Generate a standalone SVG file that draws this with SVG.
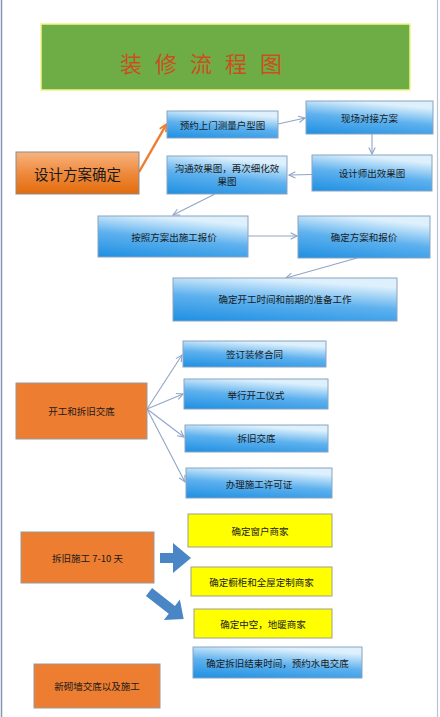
<svg xmlns="http://www.w3.org/2000/svg" width="440" height="717" viewBox="0 0 440 717">
<defs>
<linearGradient id="gBlue" x1="0" y1="1" x2="0.35" y2="0">
<stop offset="0" stop-color="#1E8FE2"/>
<stop offset="0.55" stop-color="#5EB1EE"/>
<stop offset="1" stop-color="#DDF0FC"/>
</linearGradient>
<linearGradient id="gOrange" x1="0" y1="0" x2="0" y2="1">
<stop offset="0" stop-color="#F8B47F"/>
<stop offset="0.5" stop-color="#EE8A3E"/>
<stop offset="1" stop-color="#E36C0C"/>
</linearGradient>
<marker id="ah" viewBox="0 0 10 10" refX="9" refY="5" markerWidth="8" markerHeight="8" markerUnits="userSpaceOnUse" orient="auto">
<path d="M1,1 L9,5 L1,9" fill="none" stroke="#8FA6C6" stroke-width="1.4"/>
</marker>
<marker id="ahO" viewBox="0 0 10 10" refX="8" refY="5" markerWidth="9" markerHeight="9" markerUnits="userSpaceOnUse" orient="auto">
<path d="M1,1 L9,5 L1,9" fill="none" stroke="#ED7D31" stroke-width="2"/>
</marker>
</defs>
<style>
text{font-family:"Noto Sans CJK SC","Noto Sans",sans-serif;fill:#1a1a1a;text-anchor:middle;dominant-baseline:central;font-size:9.5px}
.blue{fill:url(#gBlue);stroke:#8AA3C0;stroke-width:1}
.org{fill:#ED7D31;stroke:#9A9A9A;stroke-width:1}
.yel{fill:#FFFF00;stroke:#A0A08A;stroke-width:1}
.ln{fill:none;stroke:#8FA6C6;stroke-width:1.1;marker-end:url(#ah)}
.blk{fill:#4A86C6}
</style>
<rect x="0" y="0" width="440" height="717" fill="#FFFFFF"/>
<line x1="1.5" y1="0" x2="1.5" y2="717" stroke="#8496B0" stroke-width="1.5"/>
<line x1="437.5" y1="0" x2="437.5" y2="717" stroke="#B8C4D6" stroke-width="1.2"/>

<g id="title">
<rect x="41" y="24" width="369" height="66" fill="#6EAC46" stroke="#F2F58A" stroke-width="1.5"/>
<text x="120 142 155 177 190 212 225 247 260" y="62" style="font-size:22px;fill:#C8501E;text-anchor:start">装 修 流 程 图</text>
</g>

<g id="connectors">
<line class="ln" x1="278" y1="124" x2="305" y2="118"/>
<line class="ln" x1="372" y1="134" x2="372" y2="154"/>
<line class="ln" x1="312" y1="174.5" x2="289" y2="175"/>
<line class="ln" x1="215" y1="194" x2="173" y2="215"/>
<line class="ln" x1="248" y1="236" x2="297" y2="236"/>
<line class="ln" x1="357" y1="258" x2="286" y2="278"/>
<line class="ln" x1="147" y1="409" x2="182" y2="355"/>
<line class="ln" x1="147" y1="409" x2="183" y2="394"/>
<line class="ln" x1="147" y1="409" x2="184" y2="437"/>
<line class="ln" x1="147" y1="409" x2="185" y2="482"/>
<line x1="139" y1="172" x2="166" y2="125" stroke="#ED7D31" stroke-width="2.5" marker-end="url(#ahO)"/>
<path class="blk" d="M160,553 L173,553 L173,543 L191,558 L173,573 L173,563 L160,563 Z"/>
<path class="blk" transform="translate(149,592) rotate(38)" d="M0,-5 L29,-5 L29,-13 L44,0 L29,13 L29,5 L0,5 Z"/>
</g>

<g id="n-design">
<rect x="16" y="152" width="123" height="42" fill="url(#gOrange)" stroke="#8C8C8C" stroke-width="1"/>
<text x="77.5" y="173" style="font-size:14.5px">设计方案确定</text>
</g>
<g id="n-measure">
<rect class="blue" x="167" y="111" width="111" height="27"/>
<text x="222.5" y="124.5">预约上门测量户型图</text>
</g>
<g id="n-site">
<rect class="blue" x="306" y="101" width="127" height="33"/>
<text x="369.5" y="117.5">现场对接方案</text>
</g>
<g id="n-render">
<rect class="blue" x="312" y="155" width="120" height="36"/>
<text x="372" y="173">设计师出效果图</text>
</g>
<g id="n-communicate">
<rect class="blue" x="167" y="156" width="120" height="38"/>
<text x="227" y="168">沟通效果图，再次细化效</text>
<text x="227" y="181">果图</text>
</g>
<g id="n-quote">
<rect class="blue" x="98" y="216" width="150" height="41"/>
<text x="174" y="237">按照方案出施工报价</text>
</g>
<g id="n-confirm">
<rect class="blue" x="298" y="216" width="132" height="42"/>
<text x="364" y="237">确定方案和报价</text>
</g>
<g id="n-schedule">
<rect class="blue" x="173" y="278" width="224" height="43"/>
<text x="285" y="299">确定开工时间和前期的准备工作</text>
</g>

<g id="n-start">
<rect class="org" x="16" y="383" width="131" height="56"/>
<text x="81.5" y="411">开工和拆旧交底</text>
</g>
<g id="n-contract">
<rect class="blue" x="183" y="341" width="143" height="26"/>
<text x="254.5" y="354">签订装修合同</text>
</g>
<g id="n-ceremony">
<rect class="blue" x="184" y="379" width="144" height="30"/>
<text x="256" y="395">举行开工仪式</text>
</g>
<g id="n-demo">
<rect class="blue" x="185" y="425" width="143" height="27"/>
<text x="256.5" y="438">拆旧交底</text>
</g>
<g id="n-permit">
<rect class="blue" x="186" y="468" width="146" height="30"/>
<text x="259" y="484">办理施工许可证</text>
</g>

<g id="n-demolition">
<rect class="org" x="21" y="532" width="133" height="51"/>
<text x="87.5" y="558">拆旧施工 7-10 天</text>
</g>
<g id="n-window">
<rect class="yel" x="188" y="514" width="144" height="33"/>
<text x="260" y="531">确定窗户商家</text>
</g>
<g id="n-cabinet">
<rect class="yel" x="191" y="567" width="141" height="29"/>
<text x="261.5" y="582">确定橱柜和全屋定制商家</text>
</g>
<g id="n-heating">
<rect class="yel" x="194" y="609" width="138" height="29"/>
<text x="263" y="624">确定中空，地暖商家</text>
</g>
<g id="n-end">
<rect class="blue" x="193" y="647" width="169" height="31"/>
<text x="277.5" y="663">确定拆旧结束时间，预约水电交底</text>
</g>
<g id="n-wall">
<rect class="org" x="34" y="664" width="126" height="44"/>
<text x="97" y="686">新砌墙交底以及施工</text>
</g>
</svg>
